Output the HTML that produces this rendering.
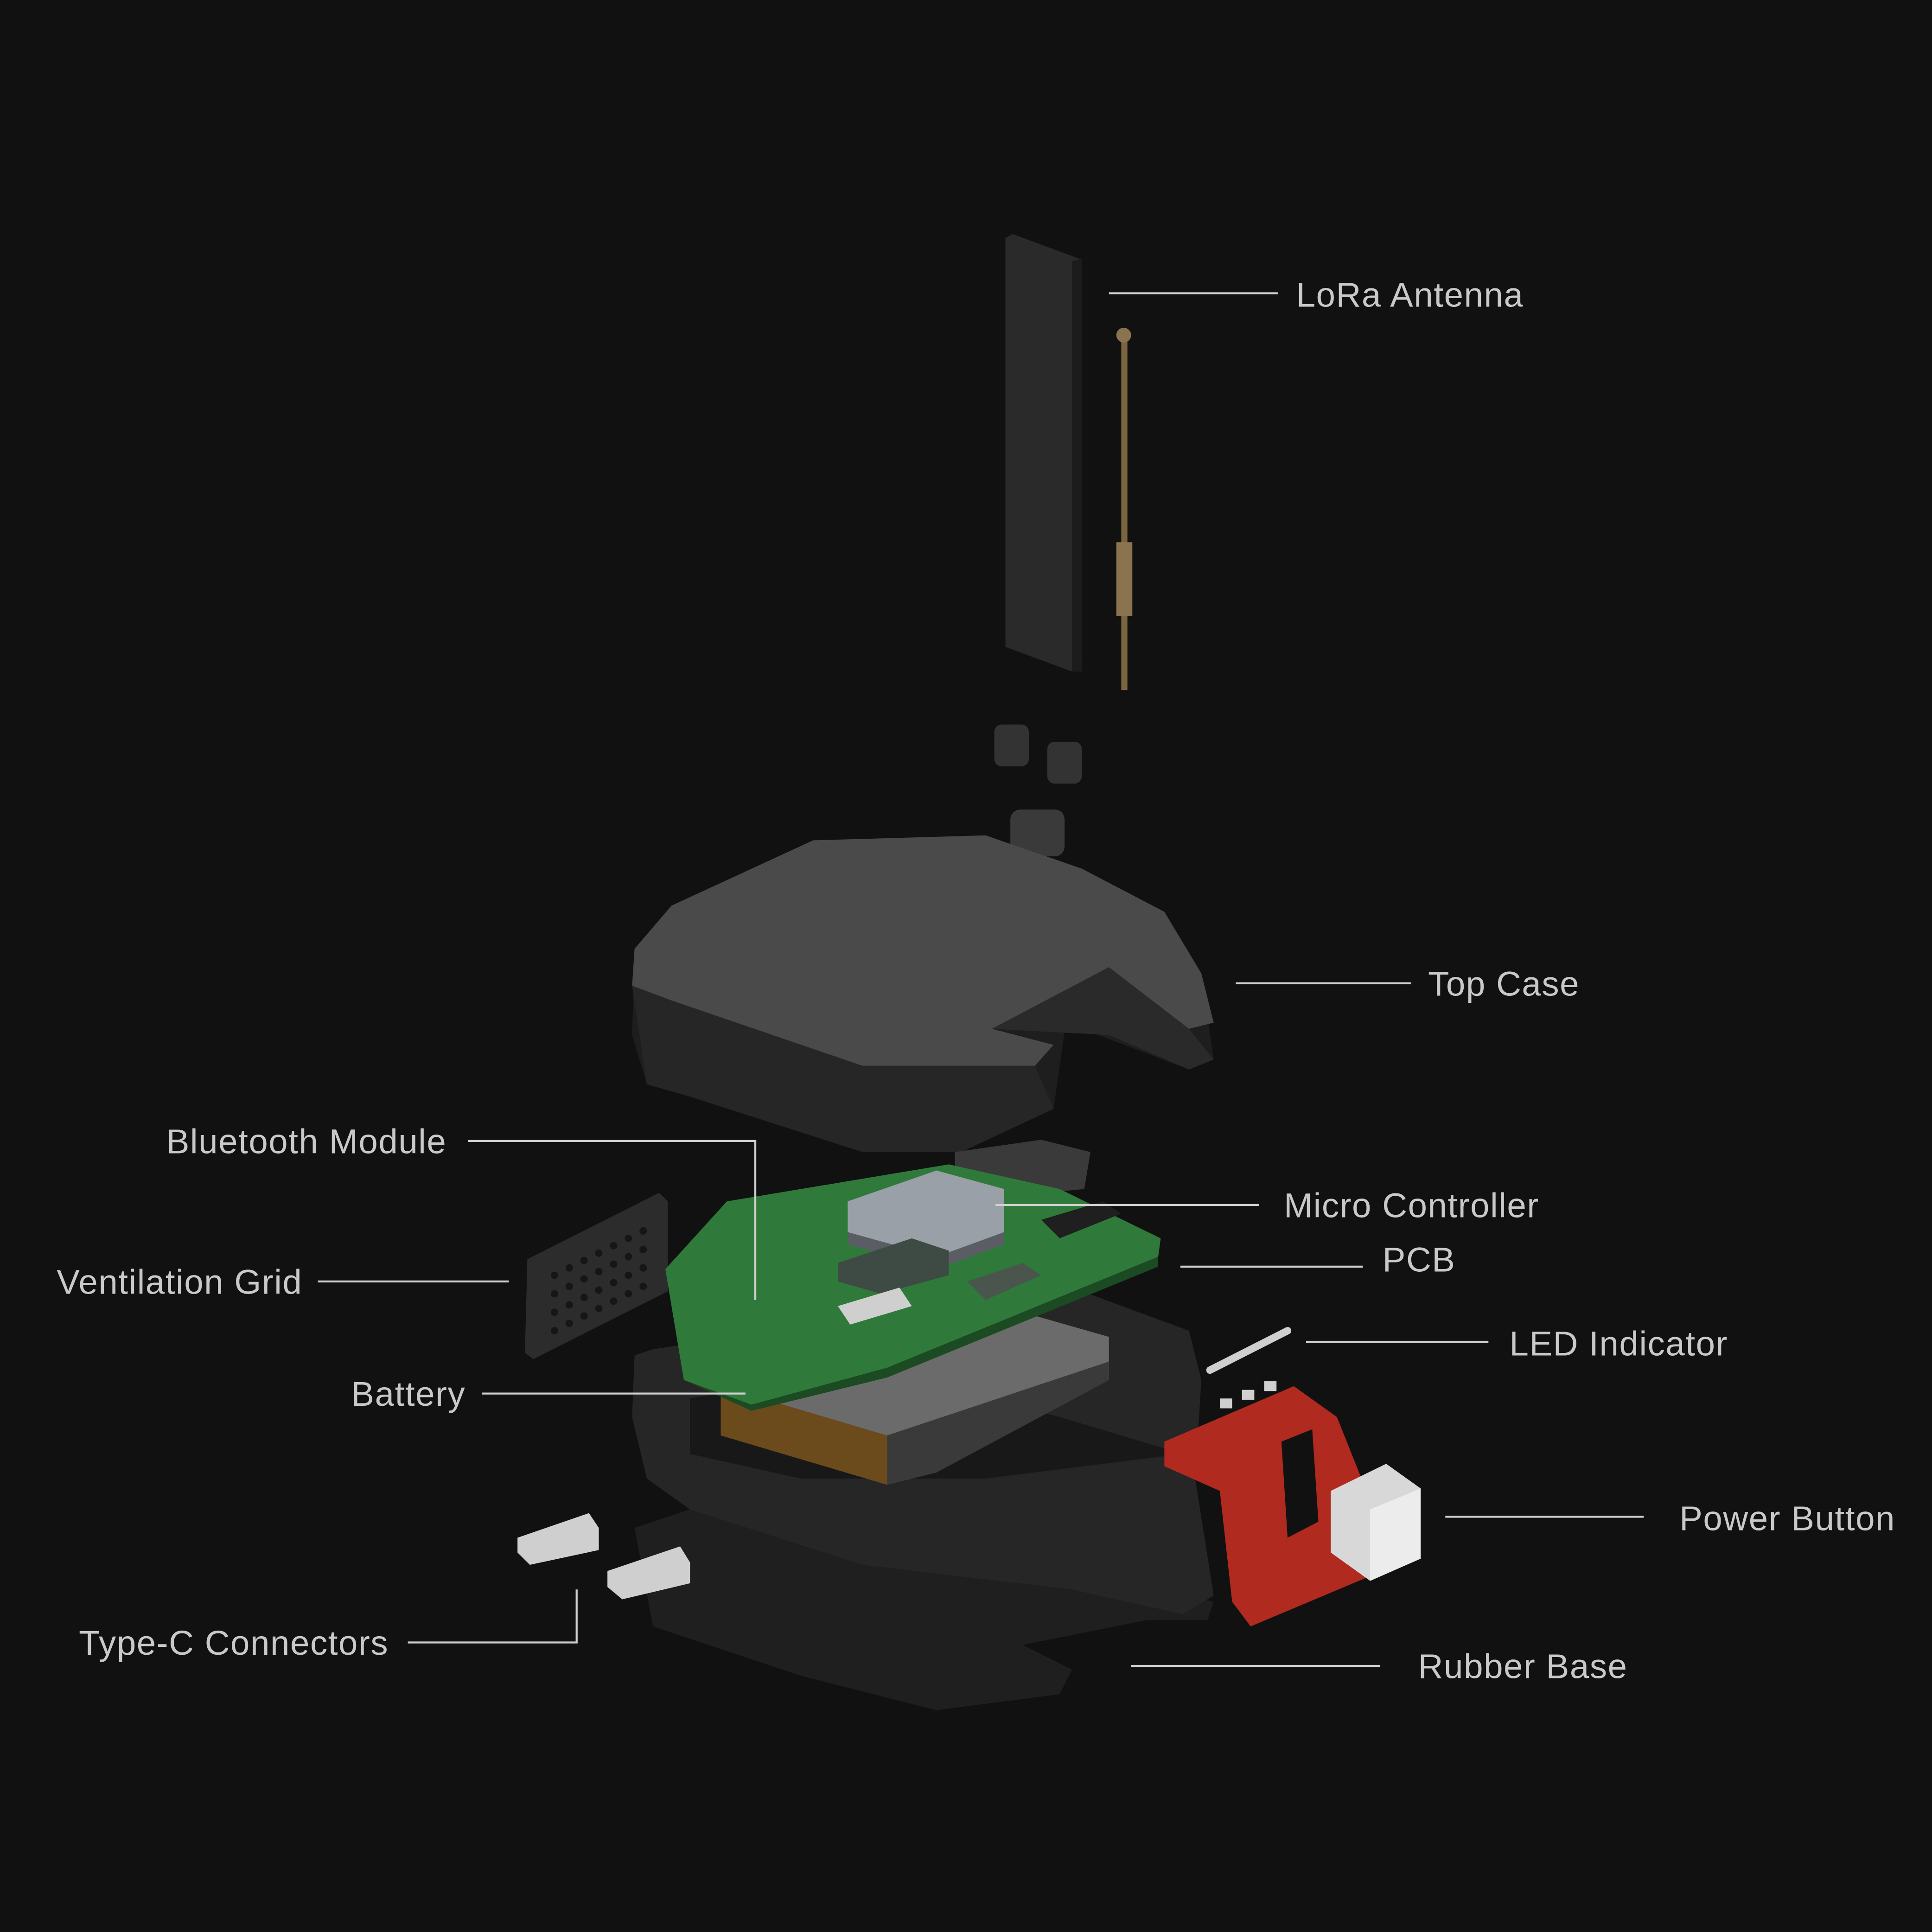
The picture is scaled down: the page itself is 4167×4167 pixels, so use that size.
<!DOCTYPE html>
<html><head><meta charset="utf-8"><style>
html,body{margin:0;padding:0;background:#111;}
svg{display:block;}
text{font-family:"Liberation Sans",sans-serif;font-size:28px;fill:#c9c9c9;letter-spacing:0.6px;}
</style></head><body>
<svg width="4167" height="4167" viewBox="0 0 1568 1568" xmlns="http://www.w3.org/2000/svg">
<rect width="1568" height="1568" fill="#111"/>
<polygon points="816,193 822,190 876,210 878,545 870,545 816,525" fill="#2a2a2a"/>
<polygon points="870,212 878,210 878,545 870,545" fill="#1c1c1c"/>
<rect x="910" y="268" width="5" height="292" fill="#7a6540"/>
<rect x="906" y="440" width="13" height="60" fill="#8a7450"/>
<circle cx="912" cy="272" r="6" fill="#8a7450"/>
<rect x="807" y="588" width="28" height="34" rx="6" fill="#333"/>
<rect x="850" y="602" width="28" height="34" rx="6" fill="#333"/>
<rect x="820" y="657" width="44" height="38" rx="8" fill="#3a3a3a"/>
<polygon points="660,682 800,678 878,705 945,740 975,790 985,860 965,868 865,830 855,900 780,935 700,935 560,890 525,880 513,840 515,770 545,735" fill="#1e1e1e"/>
<polygon points="660,682 800,678 878,705 945,740 975,790 985,830 965,835 900,785 805,835 855,848 840,865 700,865 545,812 513,800 515,770 545,735" fill="#4a4a4a"/>
<polygon points="513,800 545,812 700,865 840,865 855,900 780,935 700,935 560,890 525,880" fill="#262626"/>
<polygon points="900,785 965,835 985,860 965,868 900,840 805,835" fill="#2a2a2a"/>
<polygon points="775,935 845,925 885,935 880,965 830,970 775,955" fill="#3a3a3a"/>
<polygon points="428,1022 535,968 542,975 542,1048 433,1103 426,1098" fill="#2c2c2c"/>
<g fill="#161616">
<circle cx="450" cy="1035" r="3"/><circle cx="462" cy="1029" r="3"/><circle cx="474" cy="1023" r="3"/><circle cx="486" cy="1017" r="3"/><circle cx="498" cy="1011" r="3"/><circle cx="510" cy="1005" r="3"/><circle cx="522" cy="999" r="3"/>
<circle cx="450" cy="1050" r="3"/><circle cx="462" cy="1044" r="3"/><circle cx="474" cy="1038" r="3"/><circle cx="486" cy="1032" r="3"/><circle cx="498" cy="1026" r="3"/><circle cx="510" cy="1020" r="3"/><circle cx="522" cy="1014" r="3"/>
<circle cx="450" cy="1065" r="3"/><circle cx="462" cy="1059" r="3"/><circle cx="474" cy="1053" r="3"/><circle cx="486" cy="1047" r="3"/><circle cx="498" cy="1041" r="3"/><circle cx="510" cy="1035" r="3"/><circle cx="522" cy="1029" r="3"/>
<circle cx="450" cy="1080" r="3"/><circle cx="462" cy="1074" r="3"/><circle cx="474" cy="1068" r="3"/><circle cx="486" cy="1062" r="3"/><circle cx="498" cy="1056" r="3"/><circle cx="510" cy="1050" r="3"/><circle cx="522" cy="1044" r="3"/>
</g>
<polygon points="515,1240 560,1225 700,1255 860,1250 940,1290 985,1300 980,1315 930,1315 830,1335 870,1355 860,1375 760,1388 650,1360 530,1320" fill="#1f1f1f"/>
<polygon points="515,1100 530,1095 870,1045 965,1080 975,1120 970,1200 985,1295 960,1310 870,1290 700,1270 560,1225 525,1200 513,1150" fill="#262626"/>
<polygon points="560,1135 700,1110 860,1150 960,1180 800,1200 650,1200 560,1180" fill="#181818"/>
<polygon points="585,1125 830,1065 900,1085 900,1120 760,1195 720,1205 585,1165" fill="#6b6b6b"/>
<polygon points="585,1125 720,1165 720,1205 585,1165" fill="#6b4a1c"/>
<polygon points="720,1165 900,1105 900,1120 760,1195 720,1205" fill="#3a3a3a"/>
<polygon points="540,1030 590,975 770,945 860,965 942,1005 940,1020 720,1110 610,1140 555,1120" fill="#2f7a3a"/>
<polygon points="555,1120 610,1140 720,1110 940,1020 940,1028 720,1118 610,1145" fill="#1c4a22"/>
<polygon points="688,975 760,950 815,965 815,1000 760,1020 688,1000" fill="#9aa0a8"/>
<polygon points="688,1000 760,1020 815,1000 815,1010 760,1030 688,1010" fill="#5a5e64"/>
<polygon points="680,1025 740,1005 770,1015 770,1035 715,1050 680,1040" fill="#3e4a44"/>
<polygon points="845,990 895,975 910,985 860,1005" fill="#1f1f1f"/>
<polygon points="785,1040 830,1025 845,1035 800,1055" fill="#4a554e"/>
<polygon points="680,1060 730,1045 740,1060 690,1075" fill="#cfcfcf"/>
<line x1="982" y1="1112" x2="1045" y2="1080" stroke="#cfcfcf" stroke-width="6" stroke-linecap="round"/>
<polygon points="945,1170 1050,1125 1085,1150 1105,1200 1110,1280 1015,1320 1000,1300 990,1210 945,1190" fill="#b02a20"/>
<polygon points="1040,1170 1065,1160 1070,1235 1045,1248" fill="#111"/>
<polygon points="1080,1210 1125,1188 1153,1208 1153,1265 1112,1283 1080,1260" fill="#d8d8d8"/>
<polygon points="1112,1225 1153,1208 1153,1265 1112,1283" fill="#ececec"/>
<g fill="#d0d0d0"><rect x="990" y="1135" width="10" height="8"/><rect x="1008" y="1128" width="10" height="8"/><rect x="1026" y="1121" width="10" height="8"/></g>
<polygon points="420,1248 478,1228 486,1240 486,1258 430,1270 420,1260" fill="#cfcfcf"/>
<polygon points="493,1275 552,1255 560,1268 560,1285 505,1298 493,1288" fill="#cfcfcf"/>
<g stroke="#d0d0d0" stroke-width="1.6" fill="none">
<line x1="900" y1="238" x2="1037" y2="238"/>
<line x1="1003" y1="798" x2="1145" y2="798"/>
<polyline points="380,926 613,926 613,1055"/>
<line x1="808" y1="978" x2="1022" y2="978"/>
<line x1="958" y1="1028" x2="1106" y2="1028"/>
<line x1="258" y1="1040" x2="413" y2="1040"/>
<line x1="1060" y1="1089" x2="1208" y2="1089"/>
<line x1="391" y1="1131" x2="605" y2="1131"/>
<line x1="1173" y1="1231" x2="1334" y2="1231"/>
<polyline points="331,1333 468,1333 468,1290"/>
<line x1="918" y1="1352" x2="1120" y2="1352"/>
</g>
<text x="1052" y="249">LoRa Antenna</text>
<text x="1159" y="808">Top Case</text>
<text x="135" y="936">Bluetooth Module</text>
<text x="1042" y="988">Micro Controller</text>
<text x="1122" y="1032">PCB</text>
<text x="46" y="1050">Ventilation Grid</text>
<text x="1225" y="1100">LED Indicator</text>
<text x="285" y="1141">Battery</text>
<text x="1363" y="1242">Power Button</text>
<text x="64" y="1343">Type-C Connectors</text>
<text x="1151" y="1362">Rubber Base</text>
</svg>
</body></html>
